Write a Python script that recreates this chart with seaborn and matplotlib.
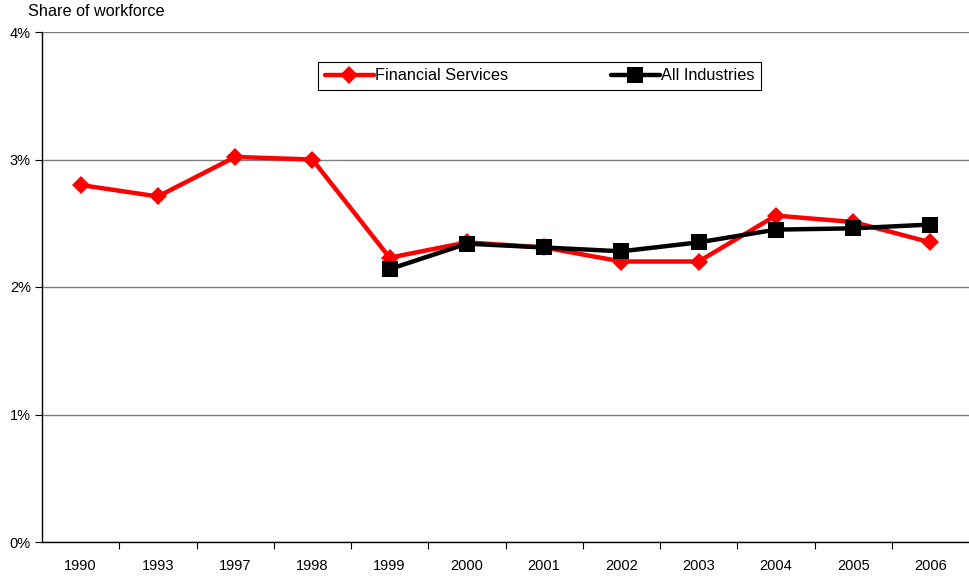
import matplotlib
matplotlib.use("Agg")
import matplotlib.pyplot as plt
from matplotlib.ticker import FixedLocator, PercentFormatter
import pandas as pd
import seaborn as sns

years = ["1990", "1993", "1997", "1998", "1999", "2000", "2001",
         "2002", "2003", "2004", "2005", "2006"]
financial = [2.80, 2.71, 3.02, 3.00, 2.23, 2.35, 2.31, 2.20, 2.20, 2.56, 2.51, 2.35]
all_years = ["1999", "2000", "2001", "2002", "2003", "2004", "2005", "2006"]
all_ind = [2.14, 2.34, 2.31, 2.28, 2.35, 2.45, 2.46, 2.49]
y_ticks = [0, 1, 2, 3, 4]

df = pd.concat([
    pd.DataFrame({"year": years, "share": financial, "series": "Financial Services"}),
    pd.DataFrame({"year": all_years, "share": all_ind, "series": "All Industries"}),
], ignore_index=True)
df["pos"] = df["year"].map({y: i for i, y in enumerate(years)})

sns.set_style("white")
plt.rcParams["font.family"] = ["Liberation Sans", "DejaVu Sans"]
plt.rcParams["font.size"] = 10.5
plt.rcParams["text.color"] = "black"
plt.rcParams["xtick.color"] = "black"
plt.rcParams["ytick.color"] = "black"

fig = plt.figure(figsize=(9.69, 5.77), dpi=100)
ax = fig.add_axes([42 / 969, 35 / 577, 927 / 969, 510 / 577])

sns.lineplot(
    data=df, x="pos", y="share", hue="series", style="series",
    palette={"Financial Services": "#ff0000", "All Industries": "#000000"},
    markers={"Financial Services": "D", "All Industries": "s"},
    dashes=False, linewidth=3.2, markersize=9, markeredgewidth=0,
    sort=False, ax=ax,
)
# squares a touch larger than diamonds
for line in ax.lines:
    if line.get_marker() == "s":
        line.set_markersize(11.5)

ax.set_xlim(-0.5, len(years) - 0.5)
ax.set_ylim(0, 4)
ax.set_yticks(y_ticks)
ax.yaxis.set_major_formatter(PercentFormatter(decimals=0))
ax.set_xticks(range(len(years)))
ax.set_xticklabels(years)
ax.xaxis.set_minor_locator(FixedLocator([i + 0.5 for i in range(len(years) - 1)]))
ax.tick_params(axis="x", which="major", bottom=True, length=0, pad=12)
ax.tick_params(axis="x", which="minor", bottom=True, length=5, width=0.8,
               direction="out", color="black")
ax.tick_params(axis="y", left=True, length=5, width=0.8, direction="out",
               color="black", pad=3)
ax.grid(axis="y", color="#808080", linewidth=1)
ax.set_axisbelow(True)
for side in ["top", "right"]:
    ax.spines[side].set_visible(False)
for side in ["left", "bottom"]:
    ax.spines[side].set_color("black")
    ax.spines[side].set_linewidth(1)
ax.set_xlabel("")
ax.set_ylabel("")

handles, labels = ax.get_legend_handles_labels()
leg = ax.legend(handles, labels, ncol=2, loc="center",
                bbox_to_anchor=(0.537, 0.914), frameon=True, fancybox=False,
                edgecolor="black", framealpha=1, columnspacing=6.3,
                handlelength=3.0, handletextpad=0.1, borderpad=0.4,
                borderaxespad=0, prop={"size": 11.7})
leg.get_frame().set_linewidth(0.8)

fig.text(28 / 969, 1 - 12 / 577, "Share of workforce", va="center", ha="left",
         fontsize=11.7)

fig.savefig("out.png", dpi=100)
